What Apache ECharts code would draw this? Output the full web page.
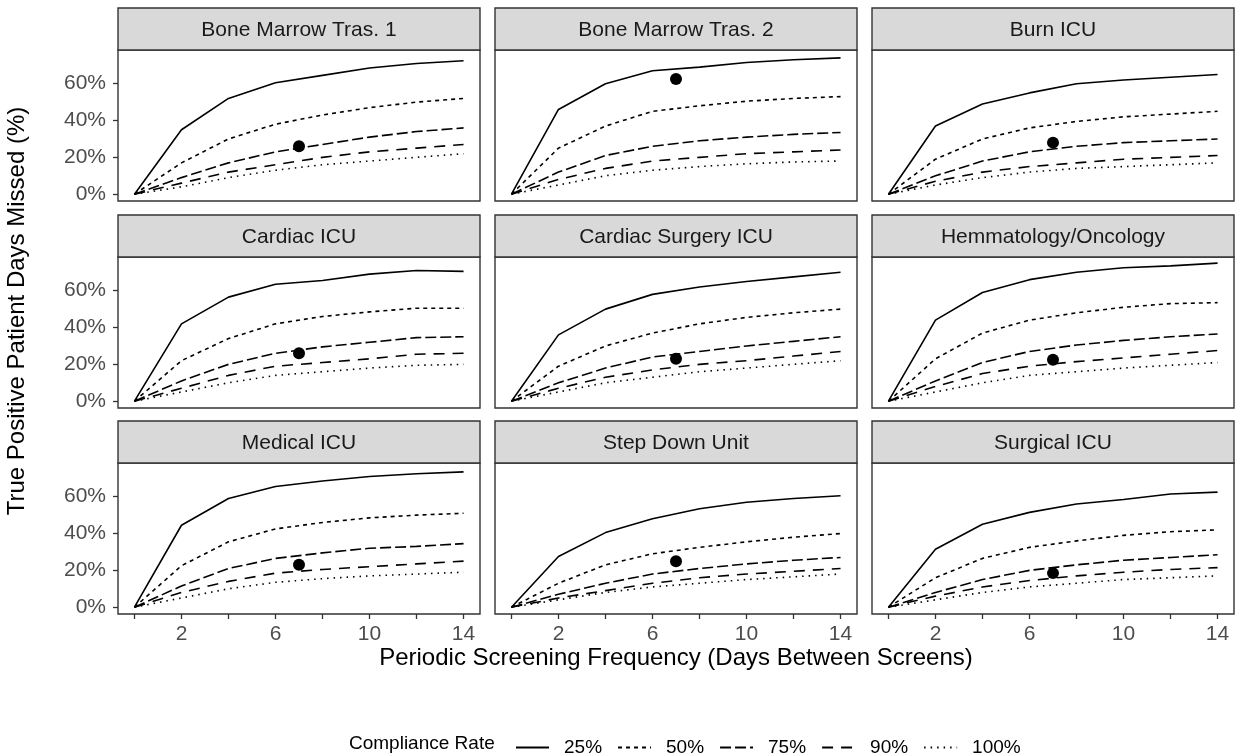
<!DOCTYPE html>
<html>
<head>
<meta charset="utf-8">
<script src="https://cdn.jsdelivr.net/npm/echarts@6/dist/echarts.min.js"></script>
<style>html,body{margin:0;padding:0;background:#fff}#c{width:1236px;height:755px}</style>
</head>
<body>
<div id="c"></div>
<script>
// ---- data ----
const panelNames = ['Bone Marrow Tras. 1','Bone Marrow Tras. 2','Burn ICU','Cardiac ICU','Cardiac Surgery ICU','Hemmatology/Oncology','Medical ICU','Step Down Unit','Surgical ICU'];
const xDays = [0,2,4,6,8,10,12,14];
const rateNames = ['25%','50%','75%','90%','100%'];
const rate25 = [
  [0,35,52,60.5,64.5,68.5,71,72.5],
  [0,46,60,67,69,71.5,73,74],
  [0,37,49,55,60,62,63.5,65],
  [0,42,56.5,63.5,65.5,69,71,70.5],
  [0,36,50,58,62,65,67.5,70],
  [0,44,59,66,70,72.5,73.5,75],
  [0,44.5,59,65.5,68.5,71,72.5,73.5],
  [0,27.5,40.5,48,53.5,57,59,60.5],
  [0,31.5,45,51.5,56,58.5,61.5,62.5]
];
const rate50 = [
  [0,17,30,38,43,47,50,52],
  [0,25,37,45,48,50.5,52,53],
  [0,19,30,36,39.5,42,43.5,45],
  [0,22,34,42,46,48.5,50.5,50.5],
  [0,19,30,37,42,45.5,48,50],
  [0,23,37,44,48,51,53,53.5],
  [0,22.5,35.5,42.5,46,48.5,50,51],
  [0,13,23,29,32.5,35.5,38,40],
  [0,16,26.5,32.5,36,39,41,42]
];
const rate75 = [
  [0,9,17,23,27,31,34,36],
  [0,12,21,26,29,31,32.5,33.5],
  [0,10,18,23,26,28,29,30],
  [0,11,20,26,29.5,32,34.5,35],
  [0,10,18,24,27,30,32.5,35],
  [0,11,21,27,30.5,33,35,36.5],
  [0,11.5,21,26.5,29.5,32,33,34.5],
  [0,7,13,18,21,23.5,25.5,27],
  [0,8,15,20,23,25.5,27,28.5]
];
const rate90 = [
  [0,6,12,16,20,23,25,27],
  [0,8,14,18,20,22,23,24],
  [0,7,12,15,17,19,20,21],
  [0,7,14,19,21,23,25.5,26],
  [0,7,13,17,20,22,24.5,27],
  [0,8,15,19,21.5,23.5,25.5,27.5],
  [0,8,14,18.5,20.5,22,23.5,25],
  [0,5,9,13,16,18,19.5,21],
  [0,6,11,14.5,17,19,20.5,21.5]
];
const rate100 = [
  [0,4,9,13,16,18,20,22],
  [0,5,10,13,15,16.5,17.5,18],
  [0,5,9,12,14,15,16,17],
  [0,5,10,14,16,18,19.5,20],
  [0,5,10,13,16,18,20,22],
  [0,5,10,14,16,18,19.5,21],
  [0,5,10,13.5,15.5,17,18,19],
  [0,4,8,11,13,15,16.5,18],
  [0,4,8,11,13,15,16,17]
];
const observedX = 7;
const observedY = [26,62.5,28,26,23,22.5,23,25,18.5];
const xTicks = [0,2,4,6,8,10,12,14];
const xTickLabels = [2,6,10,14];
const yTickLabels = [0,20,40,60];

// ---- layout / style ----
const FONT = '"Liberation Sans", Arial, Helvetica, sans-serif';
const colLeft = [118, 495, 872];
const panelW = 362;
const stripTop = [8, 215, 421];
const stripH = 42;
const panelH = 151;
const dashes = ['solid', [4,4], [11,4], [11,8], [1.5,5]];
const allRates = [rate25, rate50, rate75, rate90, rate100];

const grids = [], xAxes = [], yAxes = [], series = [], graphics = [];
panelNames.forEach((name, i) => {
  const r = Math.floor(i / 3), c = i % 3;
  const top = stripTop[r] + stripH;
  grids.push({left: colLeft[c], top: top, width: panelW, height: panelH, show: true,
    borderColor: '#333333', borderWidth: 1.4, backgroundColor: '#fff', containLabel: false});
  const bottomRow = r === 2, leftCol = c === 0;
  xAxes.push({type: 'value', gridIndex: i, min: -0.7, max: 14.7,
    splitLine: {show: false}, axisLine: {show: false, onZero: false},
    axisTick: {show: bottomRow, length: 5, lineStyle: {color: '#333', width: 1.3}, customValues: xTicks},
    axisLabel: {show: bottomRow, customValues: xTickLabels, color: '#4d4d4d', fontSize: 21, fontFamily: FONT, margin: 10}
  });
  yAxes.push({type: 'value', gridIndex: i, min: -3.7, max: 78.3,
    splitLine: {show: false}, axisLine: {show: false, onZero: false},
    axisTick: {show: leftCol, length: 5, lineStyle: {color: '#333', width: 1.3}, customValues: yTickLabels},
    axisLabel: {show: leftCol, customValues: yTickLabels, formatter: v => v + '%', color: '#4d4d4d', fontSize: 21, fontFamily: FONT, margin: 12}
  });
  allRates.forEach((arr, k) => {
    series.push({type: 'line', name: rateNames[k], xAxisIndex: i, yAxisIndex: i,
      data: xDays.map((x, j) => [x, arr[i][j]]), symbol: 'none', silent: true, animation: false,
      lineStyle: {color: '#000', width: 1.6, type: dashes[k]}, itemStyle: {color: '#000'}});
  });
  series.push({type: 'scatter', name: 'observed', xAxisIndex: i, yAxisIndex: i,
    data: [[observedX, observedY[i]]], symbolSize: 12, itemStyle: {color: '#000', opacity: 1}, silent: true, animation: false});
  // strip
  graphics.push({type: 'rect', shape: {x: colLeft[c], y: stripTop[r], width: panelW, height: stripH},
    style: {fill: '#d9d9d9', stroke: '#333333', lineWidth: 1.4}});
  graphics.push({type: 'text', x: colLeft[c] + panelW / 2, y: stripTop[r] + stripH / 2 + 1,
    style: {text: name, fill: '#1a1a1a', font: '21px ' + FONT, textAlign: 'center', textVerticalAlign: 'middle'}});
});

graphics.push({type: 'text', x: 17, y: 311, rotation: Math.PI / 2,
  style: {text: 'True Positive Patient Days Missed (%)', fill: '#000', font: '24px ' + FONT, textAlign: 'center', textVerticalAlign: 'middle'}});
graphics.push({type: 'text', x: 676, y: 658,
  style: {text: 'Periodic Screening Frequency (Days Between Screens)', fill: '#000', font: '24px ' + FONT, textAlign: 'center', textVerticalAlign: 'middle'}});
graphics.push({type: 'text', x: 349, y: 744,
  style: {text: 'Compliance Rate', fill: '#000', font: '19px ' + FONT, textAlign: 'left', textVerticalAlign: 'middle'}});

const chart = echarts.init(document.getElementById('c'), null, {renderer: 'canvas'});
chart.setOption({
  animation: false,
  backgroundColor: '#fff',
  grid: grids, xAxis: xAxes, yAxis: yAxes, series: series,
  legend: {data: rateNames, left: 510, top: 733, itemWidth: 33, itemHeight: 20, itemGap: 15,
    itemStyle: {opacity: 0, borderWidth: 0},
    lineStyle: {width: 2},
    textStyle: {color: '#000', fontSize: 19, fontFamily: FONT, padding: [0, 0, 0, 10]}, selectedMode: false},
  graphic: graphics
});
</script>
</body>
</html>
